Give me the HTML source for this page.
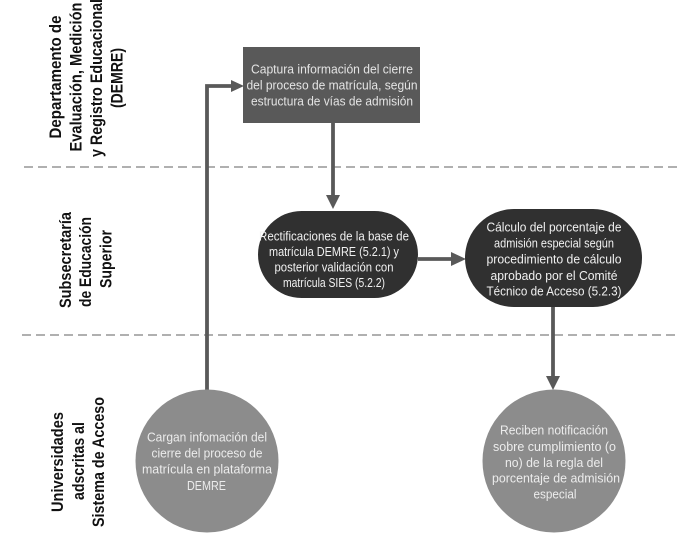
<!DOCTYPE html>
<html>
<head>
<meta charset="utf-8">
<style>
html,body{margin:0;padding:0;background:#fff;}
svg{display:block;}
.lbl{font-family:"Liberation Sans",sans-serif;font-weight:bold;font-size:16.5px;fill:#111;}
.t{font-family:"Liberation Sans",sans-serif;font-size:13px;text-anchor:middle;}
</style>
</head>
<body>
<svg width="700" height="534" viewBox="0 0 700 534" xmlns="http://www.w3.org/2000/svg">
  <!-- dashed lane separators -->
  <line x1="24" y1="167" x2="678" y2="167" stroke="#b0b0b0" stroke-width="2" stroke-dasharray="9 5"/>
  <line x1="22" y1="335" x2="678" y2="335" stroke="#b0b0b0" stroke-width="2" stroke-dasharray="9 5"/>

  <!-- lane labels -->
  <g class="lbl" text-anchor="middle">
    <text transform="translate(61,77) rotate(-90)" textLength="123" lengthAdjust="spacingAndGlyphs">Departamento de</text>
    <text transform="translate(81.5,77) rotate(-90)" textLength="149" lengthAdjust="spacingAndGlyphs">Evaluación, Medición</text>
    <text transform="translate(102,78) rotate(-90)" textLength="158" lengthAdjust="spacingAndGlyphs">y Registro Educacional</text>
    <text transform="translate(122.5,78) rotate(-90)" textLength="60" lengthAdjust="spacingAndGlyphs">(DEMRE)</text>

    <text transform="translate(71,260) rotate(-90)" textLength="96" lengthAdjust="spacingAndGlyphs">Subsecretaría</text>
    <text transform="translate(91,262) rotate(-90)" textLength="90" lengthAdjust="spacingAndGlyphs">de Educación</text>
    <text transform="translate(111.5,259) rotate(-90)" textLength="58" lengthAdjust="spacingAndGlyphs">Superior</text>

    <text transform="translate(63,462) rotate(-90)" textLength="100" lengthAdjust="spacingAndGlyphs">Universidades</text>
    <text transform="translate(84,461) rotate(-90)" textLength="78" lengthAdjust="spacingAndGlyphs">adscritas al</text>
    <text transform="translate(104,462) rotate(-90)" textLength="130" lengthAdjust="spacingAndGlyphs">Sistema de Acceso</text>
  </g>

  <!-- connectors -->
  <polyline points="207,390 207,86 232,86" fill="none" stroke="#595959" stroke-width="3.8" stroke-linejoin="miter"/>
  <polygon points="231,80 244,86 231,92" fill="#595959"/>

  <line x1="333" y1="123" x2="333" y2="197" stroke="#595959" stroke-width="3.8"/>
  <polygon points="326,195 340,195 333,209" fill="#595959"/>

  <line x1="418" y1="259" x2="453" y2="259" stroke="#595959" stroke-width="3.8"/>
  <polygon points="451,252 466,259 451,266" fill="#595959"/>

  <line x1="553" y1="306" x2="553" y2="378" stroke="#595959" stroke-width="3.8"/>
  <polygon points="546,376 560,376 553,390" fill="#595959"/>

  <!-- box 1 -->
  <rect x="243" y="47" width="177" height="76" fill="#595959"/>
  <g class="t" fill="#e4e4e4">
    <text x="332" y="73.5" textLength="162" lengthAdjust="spacingAndGlyphs">Captura información del cierre</text>
    <text x="332" y="89.5" textLength="171" lengthAdjust="spacingAndGlyphs">del proceso de matrícula, según</text>
    <text x="332" y="105.5" textLength="162" lengthAdjust="spacingAndGlyphs">estructura de vías de admisión</text>
  </g>

  <!-- box 2 -->
  <rect x="258" y="211" width="160" height="87" rx="43.5" ry="43.5" fill="#303030"/>
  <g class="t" fill="#f0f0f0">
    <text x="334" y="240.5" textLength="150" lengthAdjust="spacingAndGlyphs">Rectificaciones de la base de</text>
    <text x="334" y="256" textLength="130" lengthAdjust="spacingAndGlyphs">matrícula DEMRE (5.2.1) y</text>
    <text x="334" y="271.5" textLength="119" lengthAdjust="spacingAndGlyphs">posterior validación con</text>
    <text x="334" y="287" textLength="102" lengthAdjust="spacingAndGlyphs">matrícula SIES (5.2.2)</text>
  </g>

  <!-- box 3 -->
  <rect x="465" y="209" width="177" height="98" rx="49" ry="49" fill="#303030"/>
  <g class="t" fill="#f0f0f0">
    <text x="554" y="231.5" textLength="135" lengthAdjust="spacingAndGlyphs">Cálculo del porcentaje de</text>
    <text x="554" y="247.5" textLength="120" lengthAdjust="spacingAndGlyphs">admisión especial según</text>
    <text x="554" y="263.5" textLength="135" lengthAdjust="spacingAndGlyphs">procedimiento de cálculo</text>
    <text x="554" y="280" textLength="127" lengthAdjust="spacingAndGlyphs">aprobado por el Comité</text>
    <text x="554" y="295.5" textLength="135" lengthAdjust="spacingAndGlyphs">Técnico de Acceso (5.2.3)</text>
  </g>

  <!-- circle left -->
  <circle cx="207" cy="461" r="71.5" fill="#8c8c8c"/>
  <g class="t" fill="#ececec">
    <text x="207" y="441.5" textLength="120" lengthAdjust="spacingAndGlyphs">Cargan infomación del</text>
    <text x="207" y="457.5" textLength="111" lengthAdjust="spacingAndGlyphs">cierre del proceso de</text>
    <text x="207" y="473.5" textLength="130" lengthAdjust="spacingAndGlyphs">matrícula en plataforma</text>
    <text x="206.5" y="490" textLength="39" lengthAdjust="spacingAndGlyphs">DEMRE</text>
  </g>

  <!-- circle right -->
  <circle cx="554" cy="461" r="71.5" fill="#8c8c8c"/>
  <g class="t" fill="#ececec">
    <text x="554" y="434.5" textLength="108" lengthAdjust="spacingAndGlyphs">Reciben notificación</text>
    <text x="554.5" y="451" textLength="123" lengthAdjust="spacingAndGlyphs">sobre cumplimiento (o</text>
    <text x="554" y="467" textLength="98" lengthAdjust="spacingAndGlyphs">no) de la regla del</text>
    <text x="556" y="482.5" textLength="128" lengthAdjust="spacingAndGlyphs">porcentaje de admisión</text>
    <text x="555" y="498.5" textLength="43" lengthAdjust="spacingAndGlyphs">especial</text>
  </g>
</svg>
</body>
</html>
